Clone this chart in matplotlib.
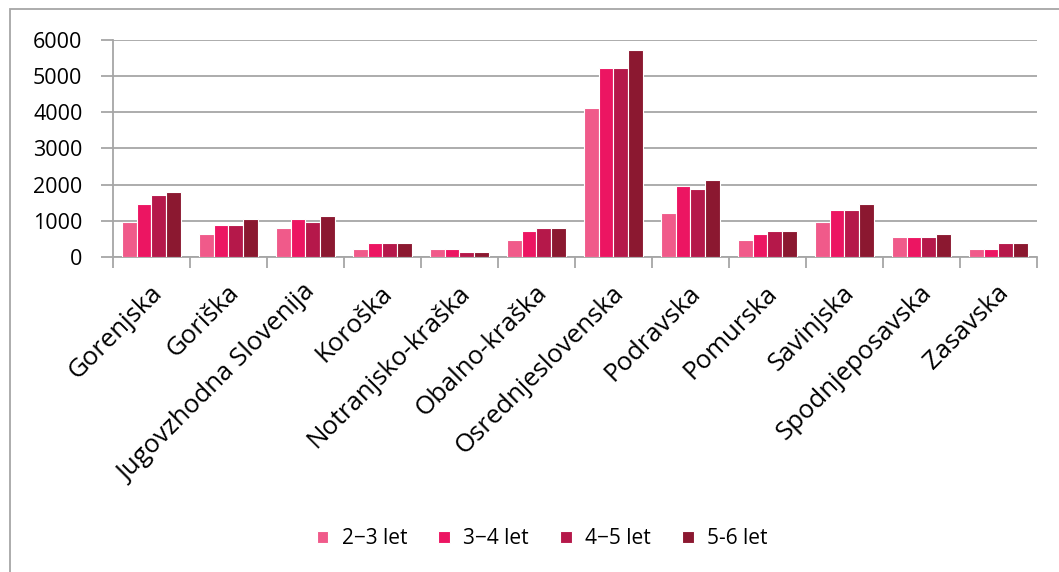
import numpy as np
import matplotlib.pyplot as plt
from matplotlib.patches import Rectangle

plt.rcParams['font.family'] = ['Open Sans', 'DejaVu Sans']

regije = ['Gorenjska', 'Goriška', 'Jugovzhodna Slovenija', 'Koroška',
          'Notranjsko-kraška', 'Obalno-kraška', 'Osrednjeslovenska',
          'Podravska', 'Pomurska', 'Savinjska', 'Spodnjeposavska', 'Zasavska']

let_2_3 = [970, 630, 800, 215, 215, 465, 4130, 1220, 465, 970, 546, 215]
let_3_4 = [1470, 870, 1045, 380, 215, 713, 5220, 1970, 630, 1295, 546, 215]
let_4_5 = [1720, 870, 960, 380, 130, 800, 5220, 1880, 713, 1295, 546, 380]
let_5_6 = [1795, 1045, 1130, 380, 130, 800, 5720, 2125, 713, 1460, 630, 380]

serije = [let_2_3, let_3_4, let_4_5, let_5_6]
oznake = ['2\u22123 let', '3\u22124 let', '4\u22125 let', '5-6 let']
barve = ['#F05A8A', '#EC1562', '#B5184A', '#8B1830']

fig = plt.figure(figsize=(10.59, 5.72), dpi=100)
ax = fig.add_axes([0.1067, 0.551, 0.8725, 0.379])

x = np.arange(len(regije))
w = 0.19
for i, (vals, lab, c) in enumerate(zip(serije, oznake, barve)):
    ax.bar(x + (i - 1.5) * w, vals, width=w, color=c, edgecolor='white',
           linewidth=0.8, label=lab, zorder=3)

ax.set_xlim(-0.5, len(regije) - 0.5)
ax.set_ylim(0, 6000)
ax.set_yticks(range(0, 6001, 1000))
ax.yaxis.grid(True, color='#A6A6A6', linewidth=1.3, zorder=0)
ax.set_axisbelow(True)

for s in ['top', 'right']:
    ax.spines[s].set_visible(False)
for s in ['left', 'bottom']:
    ax.spines[s].set_color('#A6A6A6')
    ax.spines[s].set_linewidth(1.3)

# kljukice med kategorijami
ax.set_xticks(np.arange(len(regije) + 1) - 0.5)
ax.set_xticklabels([])
ax.tick_params(axis='x', length=8, color='#A6A6A6', width=1.3)
ax.tick_params(axis='y', length=9, color='#A6A6A6', width=1.3, labelsize=15.5, pad=13)

for xi, r in zip(x, regije):
    ax.annotate(r, xy=(xi - 0.03, 0), xycoords=('data', 'axes fraction'),
                xytext=(0, -17), textcoords='offset points',
                rotation=45, ha='right', va='top', rotation_mode='anchor',
                fontsize=18.5)

fig.legend(loc='center', bbox_to_anchor=(0.512, 0.058), ncol=4, frameon=False,
           fontsize=15, handlelength=0.55, handleheight=0.55, columnspacing=1.5,
           handletextpad=0.65)

# okvir grafikona
fig.patches.append(Rectangle((10 / 1059, -0.1), 1.2, 1 - 9 / 572 + 0.1,
                             transform=fig.transFigure, fill=False,
                             edgecolor='#A6A6A6', linewidth=1.3))

fig.savefig('out.png', dpi=100)
